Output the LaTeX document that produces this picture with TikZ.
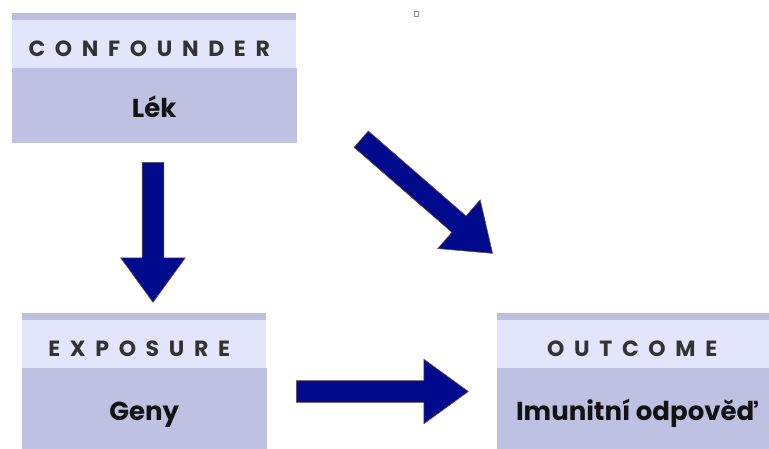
\documentclass[tikz,border=0pt]{standalone}
\usepackage{fontspec}
\setmainfont{Poppins}
\usepackage{xcolor}
\definecolor{stripe}{HTML}{BDBFE0}
\definecolor{headfill}{HTML}{E3E6FB}
\definecolor{bodyfill}{HTML}{BFC1E3}
\definecolor{arrowfill}{HTML}{000A8C}
\definecolor{arrowline}{HTML}{6E4A4A}
\usetikzlibrary{shapes.arrows, positioning}
\newcommand{\spaced}[1]{{\addfontfeatures{LetterSpace=44}#1\kern10pt}}

\begin{document}
\begin{tikzpicture}[x=1pt, y=-1pt,
    head/.style={rectangle, fill=headfill, minimum height=48pt, inner sep=0pt,
        text height=24pt, text depth=0pt, text=black!80,
        font=\bfseries\fontsize{22}{26}\selectfont},
    body/.style={rectangle, fill=bodyfill, draw=bodyfill, line width=0.4pt, inner sep=0pt,
        text height=24pt, text depth=0pt, text=black!93,
        font=\bfseries\fontsize{26}{30}\selectfont},
    bigarrow/.style={single arrow, fill=arrowfill, draw=arrowline, line width=0.6pt,
        minimum width=64pt, single arrow head extend=21.5pt,
        single arrow tip angle=72, inner xsep=0pt, inner ysep=10.5pt,
        text height=0pt, text depth=0pt, anchor=tail},
    node distance=0pt
]
\useasboundingbox (0,0) rectangle (769,448);
\clip (0,0) rectangle (769,448);

\node[head, minimum width=284pt, anchor=north west] (confHead) at (12,20) {\spaced{CONFOUNDER}};
\node[body, minimum width=284pt, minimum height=74pt, below=of confHead] (confBody) {Lék};
\node[head, minimum width=244pt, anchor=north west] (expHead) at (22,320) {\spaced{EXPOSURE}};
\node[body, minimum width=244pt, minimum height=80pt, below=of expHead] (expBody) {Geny};
\node[head, minimum width=280pt, anchor=north west] (outHead) at (497,320) {\spaced{OUTCOME}};
\node[body, minimum width=280pt, minimum height=80pt, below=of outHead] (outBody) {Imunitní odpověď};

% top stripes
\fill[stripe] ([yshift=7pt]confHead.north west) rectangle (confHead.north east);
\fill[stripe] ([yshift=7pt]expHead.north west) rectangle (expHead.north east);
\fill[stripe] ([yshift=7pt]outHead.north west) rectangle (outHead.north east);

% block arrows
\node[bigarrow, minimum height=140pt, rotate=-90] (downArrow) at (153,162) {};
\node[bigarrow, minimum height=172pt] (rightArrow) at (296,391.5) {};
\node[bigarrow, minimum height=174pt, rotate=-41] (diagArrow) at (361,139) {};

\node[draw=black!45, line width=0.4pt, minimum width=4pt, minimum height=5pt, inner sep=0pt] (blank) at (416.5,13.5) {};
\end{tikzpicture}
\end{document}
